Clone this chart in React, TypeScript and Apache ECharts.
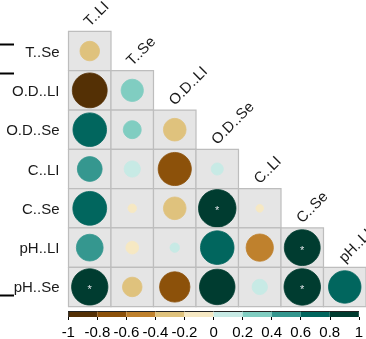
import React, { useEffect, useRef } from "react";
import * as echarts from "echarts";

// ---- data ----
const rowNames = ["T..Se", "O.D..LI", "O.D..Se", "C..LI", "C..Se", "pH..LI", "pH..Se"];
const colNames = ["T..LI", "T..Se", "O.D..LI", "O.D..Se", "C..LI", "C..Se", "pH..LI"];

const rowT_Se = [-0.26];
const rowOD_LI = [-0.83, 0.34];
const rowOD_Se = [0.77, 0.22, -0.35];
const rowC_LI = [0.42, 0.18, -0.75, 0.1];
const rowC_Se = [0.78, -0.05, -0.35, 0.96, -0.04];
const rowPH_LI = [0.49, -0.11, 0.06, 0.77, -0.51, 0.88];
const rowPH_Se = [0.9, -0.26, -0.63, 0.86, 0.16, 0.91, 0.72];
const corrRows = [rowT_Se, rowOD_LI, rowOD_Se, rowC_LI, rowC_Se, rowPH_LI, rowPH_Se];

// significant cells as [column, row]
const sigCells = [
  [3, 4],
  [5, 5],
  [0, 6],
  [5, 6],
];

const legendBreaks = [-1, -0.8, -0.6, -0.4, -0.2, 0, 0.2, 0.4, 0.6, 0.8, 1];
const palette = [
  "#543005", "#8c510a", "#bf812d", "#dfc27d", "#f6e8c3",
  "#c7eae5", "#80cdc1", "#35978f", "#01665e", "#003c30",
];

const FONT = "'Liberation Sans', Arial, sans-serif";

function colorFor(v: number) {
  let i = Math.floor((v + 1) / 0.2);
  if (i < 0) i = 0;
  if (i > 9) i = 9;
  return palette[i];
}

export default function App() {
  const ref = useRef<HTMLDivElement>(null);
  useEffect(() => {
    if (!ref.current) return;
    const chart = echarts.init(ref.current, undefined, { renderer: "svg" });

    const cellData: any[] = [];
    corrRows.forEach((row, r) => {
      row.forEach((v, c) => {
        const sig = sigCells.some((s) => s[0] === c && s[1] === r) ? 1 : 0;
        cellData.push([c, r, v, sig]);
      });
    });
    const labelData = colNames.map((n, j) => [j, j, n]);
    const binData = palette.map((col, i) => [legendBreaks[i], legendBreaks[i + 1], i]);

    const option: any = {
      animation: false,
      grid: [
        { left: 68.5, top: 31.4, width: 298.3, height: 275.2 },
        { left: 68.3, top: 311, width: 298, height: 11 },
      ],
      xAxis: [
        { gridIndex: 0, type: "category", data: colNames, show: false },
        {
          gridIndex: 1,
          type: "value",
          min: -1,
          max: 1,
          interval: 0.2,
          axisLine: { show: false },
          axisTick: { show: true, length: 3, lineStyle: { color: "#000", width: 1 } },
          splitLine: { show: false },
          axisLabel: { fontSize: 15, color: "#000", fontFamily: FONT, margin: 7 },
        },
      ],
      yAxis: [
        {
          gridIndex: 0,
          type: "category",
          data: rowNames,
          inverse: true,
          axisLine: { show: false },
          axisTick: { show: false },
          splitLine: { show: false },
          axisLabel: { fontSize: 15, color: "#1a1a1a", fontFamily: FONT, margin: 9 },
        },
        { gridIndex: 1, type: "value", min: 0, max: 1, show: false },
      ],
      series: [
        {
          type: "custom",
          xAxisIndex: 0,
          yAxisIndex: 0,
          clip: false,
          data: cellData,
          renderItem: (params: any, api: any) => {
            const c = api.value(0);
            const r = api.value(1);
            const v = api.value(2);
            const s = api.value(3);
            const p = api.coord([c, r]);
            const sz = api.size([1, 1]);
            const w = sz[0];
            const h = sz[1];
            const rad = 0.45 * w * Math.sqrt(Math.abs(v));
            const col = colorFor(v);
            const children: any[] = [
              {
                type: "rect",
                shape: { x: p[0] - w / 2, y: p[1] - h / 2, width: w, height: h },
                style: { fill: "#e5e5e5", stroke: "#bdbdbd", lineWidth: 1.2 },
              },
              {
                type: "circle",
                shape: { cx: p[0], cy: p[1], r: rad },
                style: { fill: col, stroke: col, lineWidth: 0.8 },
              },
            ];
            if (s) {
              children.push({
                type: "text",
                x: p[0],
                y: p[1] + 2,
                style: {
                  text: "*",
                  fill: "#dde3e8",
                  fontSize: 11,
                  fontFamily: FONT,
                  align: "center",
                  verticalAlign: "middle",
                },
              });
            }
            return { type: "group", children };
          },
        },
        {
          type: "custom",
          xAxisIndex: 0,
          yAxisIndex: 0,
          clip: false,
          data: labelData,
          renderItem: (params: any, api: any) => {
            const j = api.value(0);
            const p = api.coord([j, j]);
            const sz = api.size([1, 1]);
            const top = p[1] - sz[1] / 2;
            return {
              type: "text",
              x: p[0] - 4,
              y: top - 8,
              rotation: Math.PI / 4,
              style: {
                text: colNames[params.dataIndex],
                fill: "#1a1a1a",
                fontSize: 15,
                fontFamily: FONT,
                align: "left",
                verticalAlign: "middle",
              },
            };
          },
        },
        {
          type: "custom",
          xAxisIndex: 1,
          yAxisIndex: 1,
          clip: false,
          data: binData,
          renderItem: (params: any, api: any) => {
            const lo = api.value(0);
            const hi = api.value(1);
            const idx = api.value(2);
            const a = api.coord([lo, 1]);
            const b = api.coord([hi, 0]);
            const children: any[] = [
              {
                type: "rect",
                shape: { x: a[0], y: a[1], width: b[0] - a[0], height: b[1] - a[1] },
                style: { fill: palette[idx] },
              },
              {
                type: "line",
                shape: { x1: a[0], y1: a[1] + 0.5, x2: b[0], y2: a[1] + 0.5 },
                style: { stroke: "#222", lineWidth: 1 },
              },
            ];
            if (idx === 0) {
              children.push({
                type: "line",
                shape: { x1: a[0] + 0.5, y1: a[1], x2: a[0] + 0.5, y2: b[1] },
                style: { stroke: "#222", lineWidth: 1 },
              });
            }
            return { type: "group", children };
          },
        },
      ],
      graphic: [
        { type: "line", shape: { x1: 0, y1: 44.5, x2: 14, y2: 44.5 }, style: { stroke: "#000", lineWidth: 2 } },
        { type: "line", shape: { x1: 0, y1: 73.5, x2: 14, y2: 73.5 }, style: { stroke: "#000", lineWidth: 2 } },
        { type: "line", shape: { x1: 0, y1: 295.5, x2: 14, y2: 295.5 }, style: { stroke: "#000", lineWidth: 2 } },
        {
          type: "text",
          x: 21,
          y: 336,
          style: {
            text: "B",
            fill: "#000",
            fontSize: 25,
            fontWeight: "bold",
            fontFamily: "'Liberation Serif', 'Times New Roman', serif",
            align: "left",
            verticalAlign: "alphabetic",
          },
        },
      ],
    };
    chart.setOption(option);
    return () => chart.dispose();
  }, []);

  return <div ref={ref} style={{ width: 366, height: 339, position: "fixed", left: 0, top: 0 }} />;
}
